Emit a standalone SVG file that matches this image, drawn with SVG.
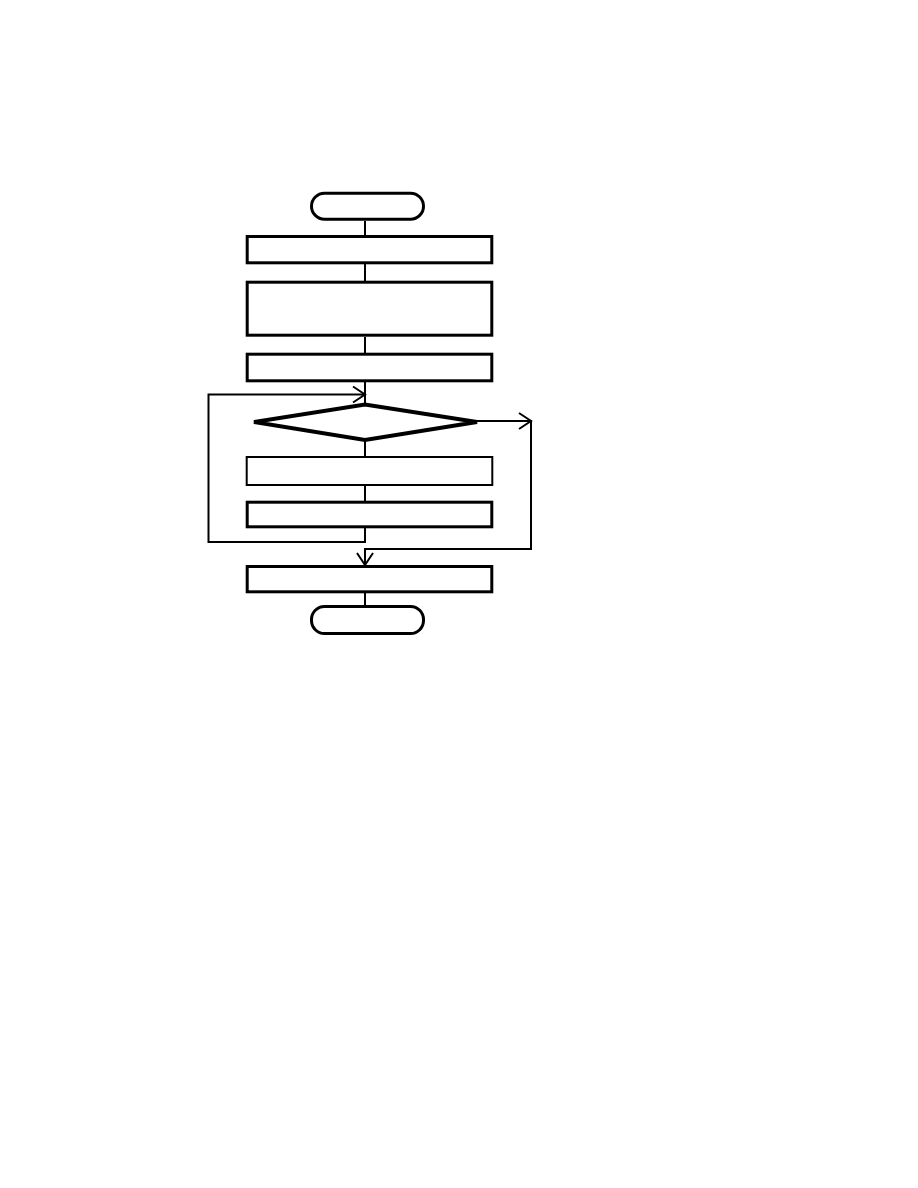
<svg xmlns="http://www.w3.org/2000/svg" width="918" height="1188" viewBox="0 0 918 1188">
<defs>
<style>
.n{fill:#fff;stroke:#000;stroke-width:3}
.thin{stroke-width:2}
.dia{fill:#fff;stroke:#000;stroke-width:4;stroke-linejoin:miter}
.c{fill:none;stroke:#000;stroke-width:2}
</style>
<marker id="ah" markerUnits="userSpaceOnUse" markerWidth="30" markerHeight="30" viewBox="-15 -15 30 30" refX="0" refY="0" orient="auto">
<path d="M-12,-8 L0,0 L-12,8" fill="none" stroke="#000" stroke-width="2"/>
</marker>
</defs>
<rect width="918" height="1188" fill="#fff"/>
<g id="connectors">
<path class="c" d="M365,221 V236"/>
<path class="c" d="M365,264 V282"/>
<path class="c" d="M365,337 V354"/>
<path class="c" d="M365,382 V404"/>
<path class="c" d="M365,528 V542 H208.5 V394.5 H365" marker-end="url(#ah)"/>
<path class="c" d="M365,441 V457"/>
<path class="c" d="M365,486 V502"/>
<path class="c" d="M477,421 H531" marker-end="url(#ah)"/>
<path class="c" d="M531,420 V549 H365 V565" marker-end="url(#ah)"/>
<path class="c" d="M365,593 V606"/>
</g>
<g id="start"><rect class="n" x="311.5" y="193.2" width="112" height="26" rx="13"/></g>
<g id="box1"><rect class="n" x="247.2" y="236.5" width="244.6" height="26.3"/></g>
<g id="box2"><rect class="n" x="247.2" y="282.2" width="244.6" height="53"/></g>
<g id="box3"><rect class="n" x="247.2" y="354.2" width="244.6" height="26.6"/></g>
<g id="decision"><polygon class="dia" points="254,422 365,404.5 477,422 365,440"/></g>
<g id="box4"><rect class="n thin" x="246.7" y="457" width="245.6" height="28"/></g>
<g id="box5"><rect class="n" x="247.2" y="502.2" width="244.6" height="24.6"/></g>
<g id="box6"><rect class="n" x="247.2" y="566.5" width="244.6" height="25.3"/></g>
<g id="end"><rect class="n" x="311.5" y="606.5" width="112" height="27" rx="13"/></g>
</svg>
